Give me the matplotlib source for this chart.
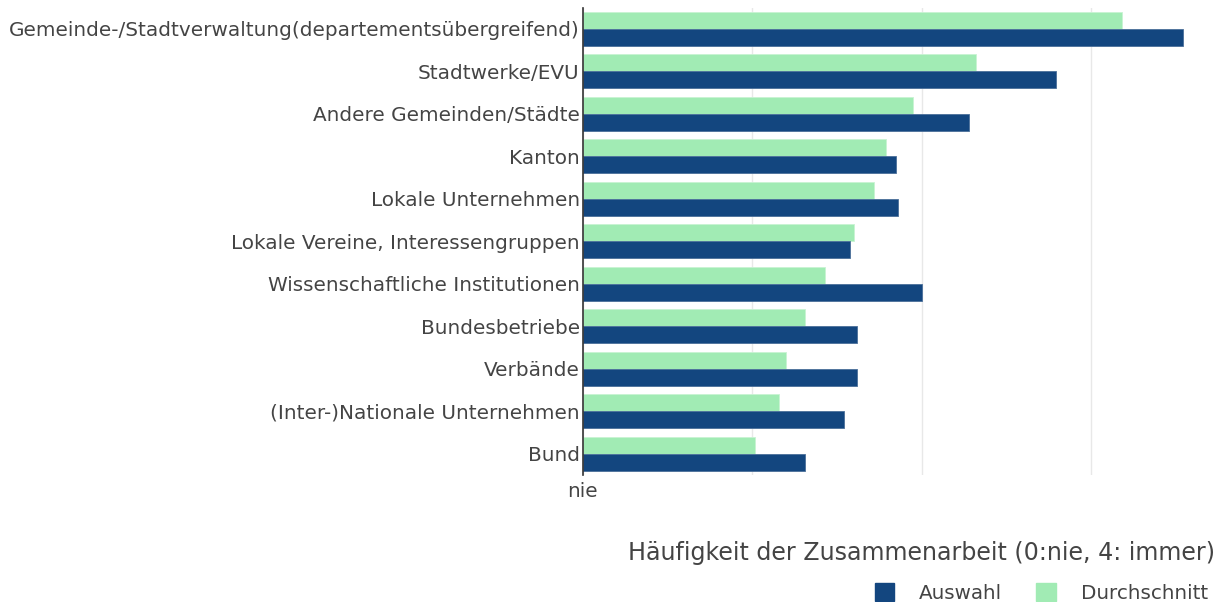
import matplotlib
matplotlib.use("Agg")
import matplotlib.pyplot as plt
from matplotlib.patches import Patch
import numpy as np

categories = [
    "Gemeinde-/Stadtverwaltung(departementsübergreifend)",
    "Stadtwerke/EVU",
    "Andere Gemeinden/Städte",
    "Kanton",
    "Lokale Unternehmen",
    "Lokale Vereine, Interessengruppen",
    "Wissenschaftliche Institutionen",
    "Bundesbetriebe",
    "Verbände",
    "(Inter-)Nationale Unternehmen",
    "Bund",
]
auswahl = [3.54, 2.79, 2.28, 1.85, 1.86, 1.58, 2.00, 1.62, 1.62, 1.54, 1.31]
durchschnitt = [3.18, 2.32, 1.95, 1.79, 1.72, 1.60, 1.43, 1.31, 1.20, 1.16, 1.02]
x_ticks = [0, 1, 2, 3]
x_ticklabels = ["nie", "", "", ""]
x_title = "Häufigkeit der Zusammenarbeit (0:nie, 4: immer)"
series_names = ["Auswahl", "Durchschnitt"]

c_a = "#13467f"
c_d = "#a1ebb4"
txt = "#444444"

plt.rcParams['font.family'] = ['DejaVu Sans']

W, H = 1220, 602
fig = plt.figure(figsize=(W / 100, H / 100), dpi=100)
left = 582.5 / W
right = 1215 / W
top = 1 - 7.75 / H
bottom = 1 - 475 / H
ax = fig.add_axes([left, bottom, right - left, top - bottom])

n = len(categories)
y = np.arange(n)
bh = 0.4
ax.barh(y - bh / 2, durchschnitt, height=bh, color=c_d, edgecolor="#c8f3d3", linewidth=0.6, zorder=3)
ax.barh(y + bh / 2, auswahl, height=bh, color=c_a, edgecolor="#4a6f9a", linewidth=0.6, zorder=3)

ax.set_ylim(n - 0.5, -0.5)
ax.set_xlim(0, 3.73)
ax.set_yticks(y)
ax.set_yticklabels(categories, fontsize=14.4, color=txt)
ax.set_xticks(x_ticks)
ax.set_xticklabels(x_ticklabels, fontsize=14.4, color=txt)
ax.tick_params(axis="both", length=0)
ax.tick_params(axis="y", pad=2)
ax.tick_params(axis="x", pad=5)
ax.grid(axis="x", color="#e8e8e8", linewidth=1, zorder=0)
for s in ["top", "right", "bottom"]:
    ax.spines[s].set_visible(False)
ax.spines["left"].set_color("#333333")
ax.spines["left"].set_linewidth(1.2)
ax.spines["left"].set_zorder(5)

fig.text(1215 / W, 1 - 553 / H, x_title, ha="right", va="center", fontsize=17.1, color=txt)

handles = [Patch(facecolor=c_a, edgecolor=c_a), Patch(facecolor=c_d, edgecolor=c_d)]
fig.legend(handles, series_names, loc="center right", bbox_to_anchor=(1208 / W, 1 - 593 / H),
           ncol=2, frameon=False, fontsize=14.3, labelcolor=txt, handlelength=1.0, handleheight=1.0,
           columnspacing=1.7, handletextpad=1.25, borderaxespad=0, borderpad=0)

fig.savefig("out.png", dpi=100)
